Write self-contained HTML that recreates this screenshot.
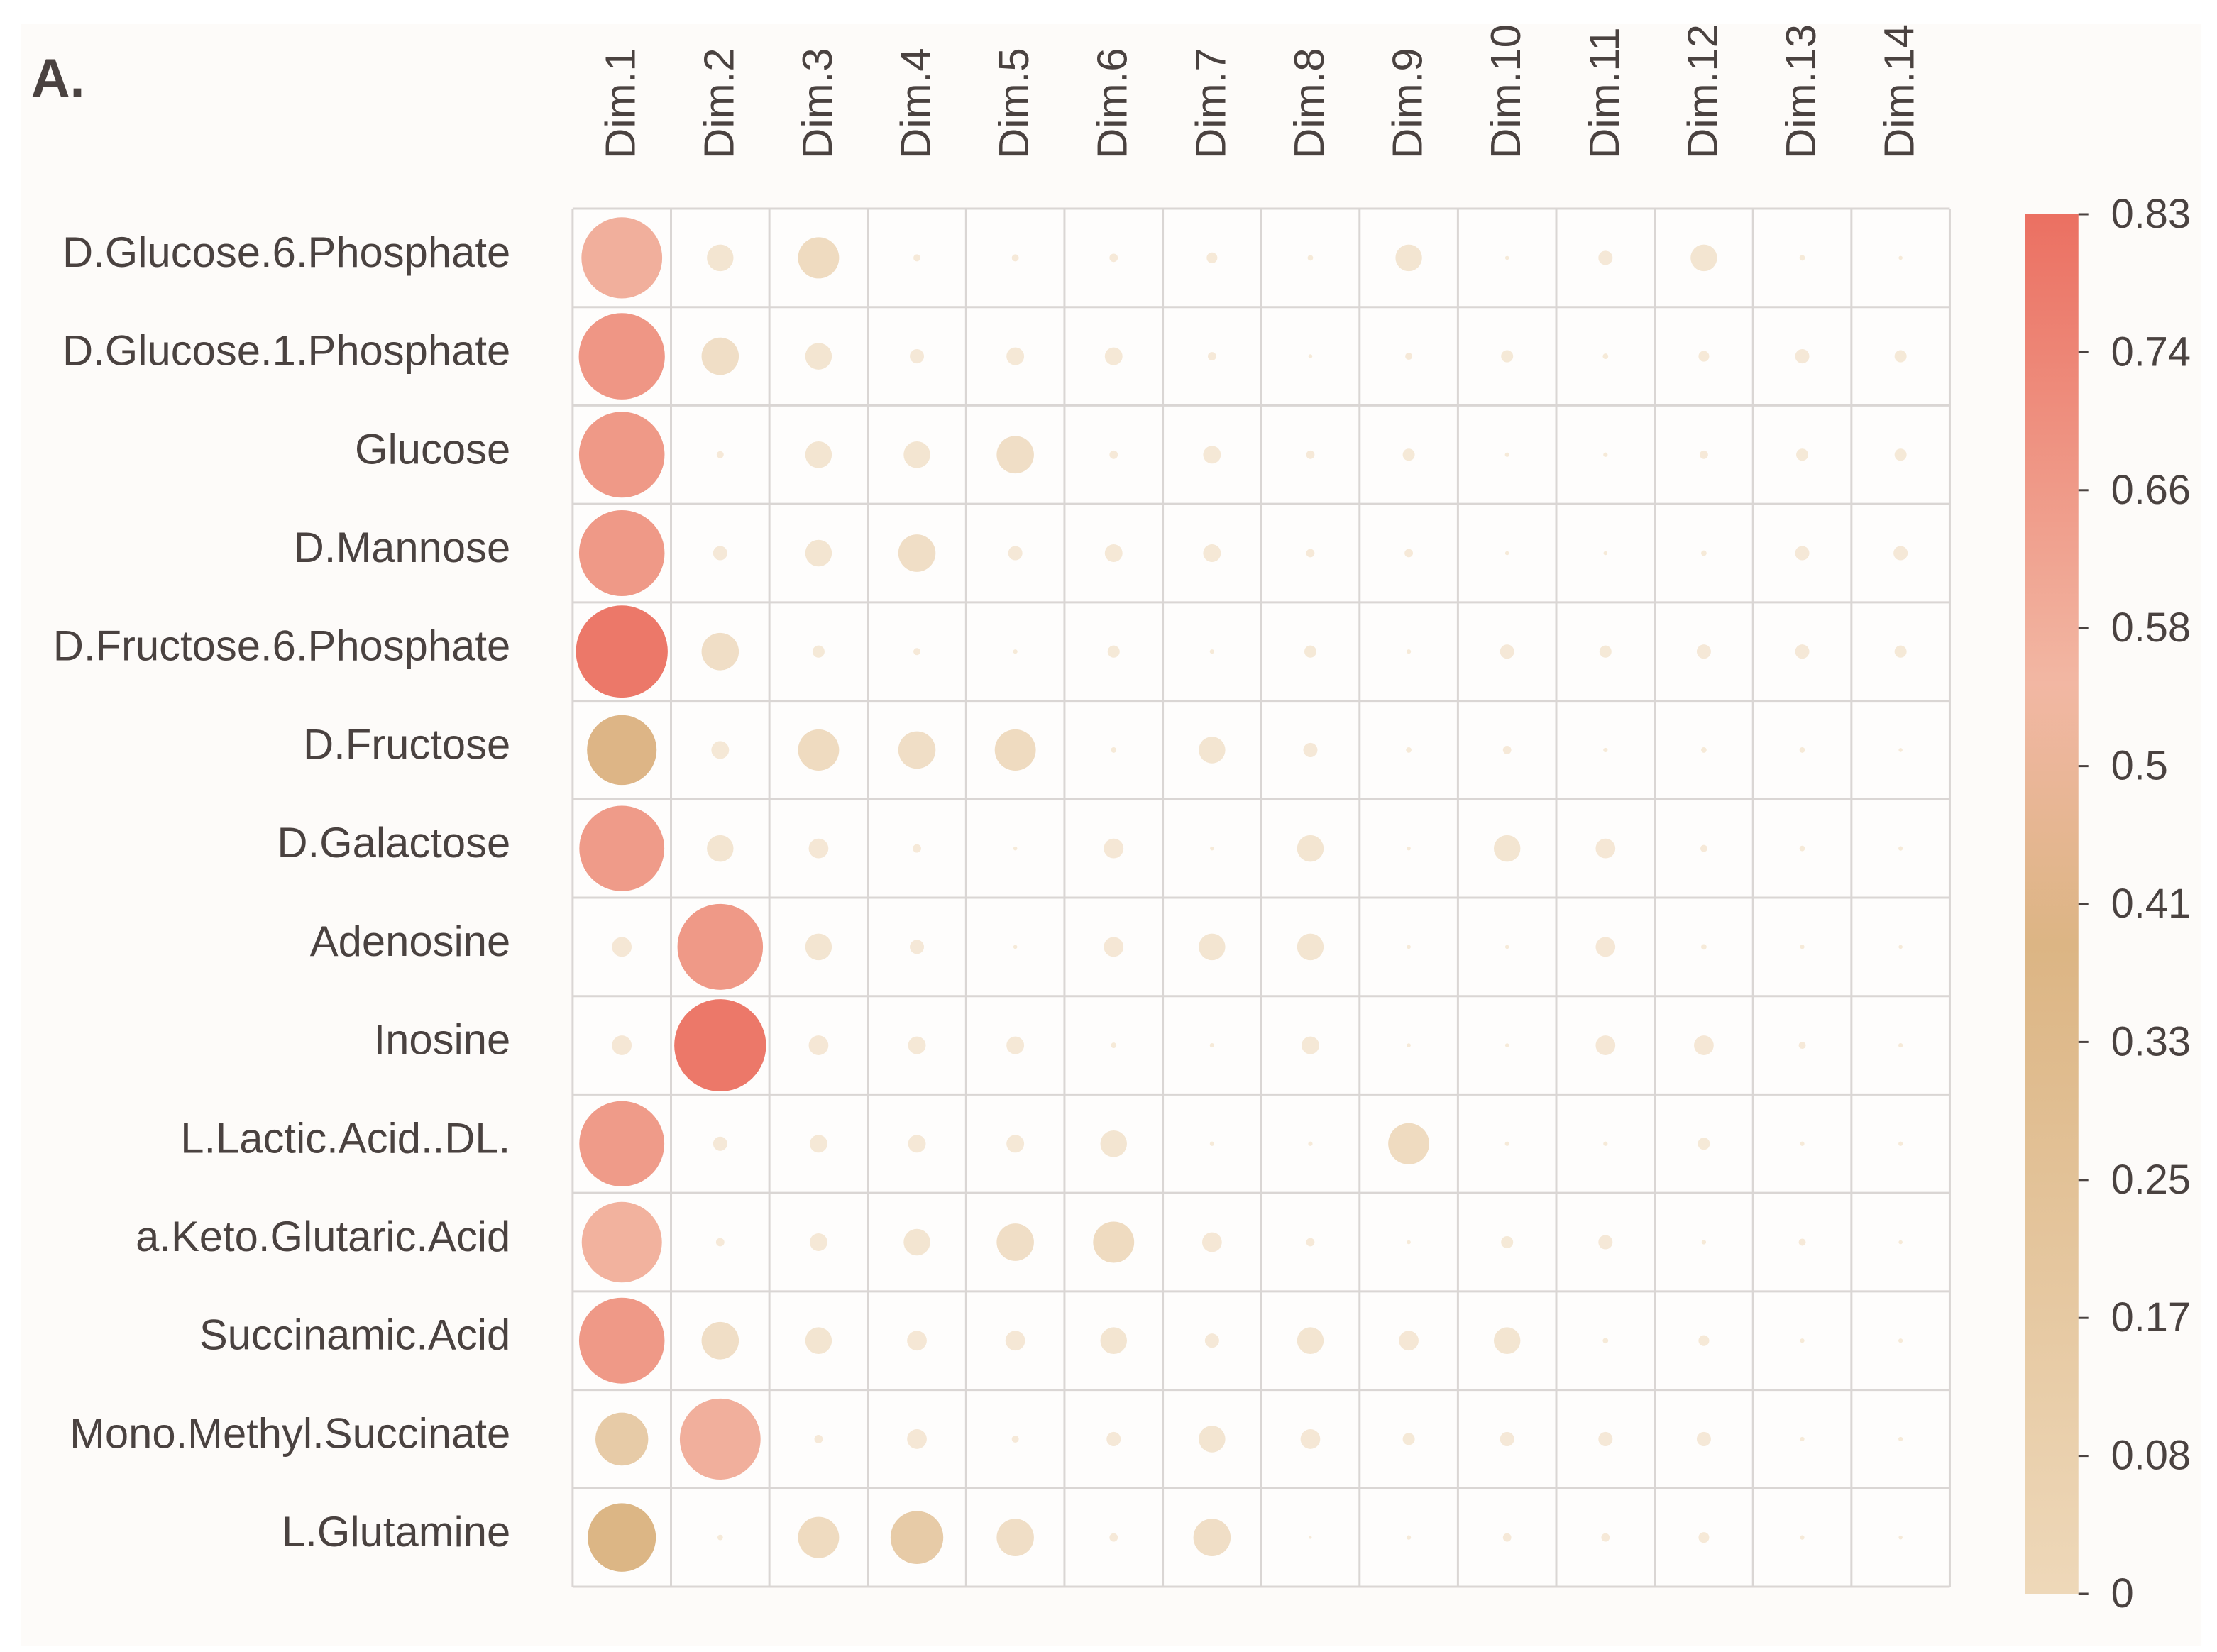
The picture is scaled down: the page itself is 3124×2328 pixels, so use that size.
<!DOCTYPE html>
<html><head><meta charset="utf-8"><style>
html,body{margin:0;padding:0;background:#fff;}
svg{display:block;font-family:"Liberation Sans",Arial,sans-serif;}
</style></head><body>
<svg id="chart" width="3124" height="2328" viewBox="0 0 1568 1164" preserveAspectRatio="none" xmlns="http://www.w3.org/2000/svg">
<defs>
<linearGradient id="cbar" x1="0" y1="1" x2="0" y2="0">
<stop offset="0" stop-color="#eed8b9"/>
<stop offset="0.47" stop-color="#dcb584"/>
<stop offset="0.66" stop-color="#f2b7a3"/>
<stop offset="1" stop-color="#eb7062"/>
</linearGradient>
</defs>
<rect x="15" y="17" width="1542" height="1143" fill="#fdfbf9"/>
<text x="22" y="68" font-size="38" font-weight="bold" fill="#4a4240">A.</text>
<g id="grid"></g>
<g id="dots"></g>
<g id="rowlabels"></g>
<g id="collabels"></g>
<rect x="1432" y="151" width="38" height="972" fill="url(#cbar)"/>
<g id="cbticks"></g>
</svg>
<script>
const rows = ["D.Glucose.6.Phosphate","D.Glucose.1.Phosphate","Glucose","D.Mannose","D.Fructose.6.Phosphate","D.Fructose","D.Galactose","Adenosine","Inosine","L.Lactic.Acid..DL.","a.Keto.Glutaric.Acid","Succinamic.Acid","Mono.Methyl.Succinate","L.Glutamine"];
const cols = ["Dim.1","Dim.2","Dim.3","Dim.4","Dim.5","Dim.6","Dim.7","Dim.8","Dim.9","Dim.10","Dim.11","Dim.12","Dim.13","Dim.14"];
const v_glc6p = [0.58,0.036,0.107,0.0013,0.0013,0.002,0.0037,0.0007,0.036,0.0003,0.0075,0.036,0.0007,0.0003];
const v_glc1p = [0.68,0.084,0.036,0.0075,0.013,0.013,0.002,0.0003,0.0013,0.005,0.0007,0.0037,0.0075,0.005];
const v_glucose = [0.67,0.0013,0.036,0.036,0.084,0.002,0.013,0.002,0.005,0.0004,0.0004,0.002,0.005,0.005];
const v_mannose = [0.67,0.0075,0.036,0.084,0.0075,0.013,0.013,0.002,0.002,0.0003,0.0003,0.0007,0.0075,0.0075];
const v_f6p = [0.80,0.084,0.005,0.0013,0.0004,0.005,0.0004,0.005,0.0004,0.0075,0.005,0.0075,0.0075,0.005];
const v_fructose = [0.40,0.013,0.107,0.084,0.107,0.0007,0.036,0.0075,0.0007,0.002,0.0004,0.0007,0.0007,0.0003];
const v_galactose = [0.66,0.036,0.017,0.002,0.0003,0.017,0.0003,0.036,0.0003,0.036,0.017,0.0013,0.0007,0.0004];
const v_adenosine = [0.017,0.67,0.036,0.0075,0.0003,0.017,0.036,0.036,0.0003,0.0003,0.017,0.0007,0.0004,0.0003];
const v_inosine = [0.017,0.80,0.017,0.013,0.013,0.0007,0.0004,0.013,0.0003,0.0003,0.017,0.017,0.0013,0.0004];
const v_lactic = [0.66,0.0075,0.013,0.013,0.013,0.036,0.0004,0.0004,0.107,0.0004,0.0004,0.005,0.0004,0.0004];
const v_akg = [0.57,0.002,0.013,0.036,0.084,0.107,0.017,0.002,0.0003,0.005,0.0075,0.0004,0.0013,0.0003];
const v_succinamic = [0.67,0.084,0.036,0.017,0.017,0.036,0.0075,0.036,0.017,0.036,0.0007,0.0037,0.0004,0.0004];
const v_mms = [0.20,0.58,0.002,0.017,0.0013,0.0075,0.036,0.017,0.005,0.0075,0.0075,0.0075,0.0004,0.0004];
const v_glutamine = [0.38,0.0007,0.107,0.20,0.084,0.002,0.084,0.00013,0.0004,0.002,0.002,0.0037,0.0004,0.0003];
const values = [v_glc6p,v_glc1p,v_glucose,v_mannose,v_f6p,v_fructose,v_galactose,v_adenosine,v_inosine,v_lactic,v_akg,v_succinamic,v_mms,v_glutamine];
const cbLabels = ["0","0.08","0.17","0.25","0.33","0.41","0.5","0.58","0.66","0.74","0.83"];
const vmax = 0.83;

const NS = "http://www.w3.org/2000/svg";
const gx0 = 405, gx1 = 1379, gy0 = 147, gy1 = 1118;
const cw = (gx1 - gx0) / cols.length, ch = (gy1 - gy0) / rows.length;
function xPos(j){ return gx0 + cw * (j + 0.5); }
function yPos(i){ return gy0 + ch * (i + 0.5); }
function rScale(v){ return 35.5 * Math.pow(Math.max(v,0), 0.4); }
const stops = [[0,[238,216,185]],[0.39,[220,181,132]],[0.55,[242,183,163]],[0.83,[235,112,98]]];
function color(v){
  v = Math.max(0, Math.min(vmax, v));
  let c = [235,112,98];
  for (let k = 1; k < stops.length; k++) {
    if (v <= stops[k][0]) {
      const a = stops[k-1], b = stops[k], t = (v - a[0]) / (b[0] - a[0]);
      c = a[1].map((x, i) => Math.round(x + (b[1][i] - x) * t));
      break;
    }
  }
  // dots with small values appear lighter in the reference
  const w = Math.max(0, 0.45 - v * 1.8);
  c = c.map(x => Math.round(x + (255 - x) * w));
  return "rgb(" + c.join(",") + ")";
}
function mk(tag, attrs, parent){
  const e = document.createElementNS(NS, tag);
  for (const k in attrs) e.setAttribute(k, attrs[k]);
  parent.appendChild(e);
  return e;
}
const grid = document.getElementById("grid");
const bg = mk("rect", {x:gx0, y:gy0, width:gx1-gx0, height:gy1-gy0, fill:"#fefdfc"}, grid);


for (let j = 0; j <= cols.length; j++) {
  const l = mk("line", {x1:gx0+cw*j, x2:gx0+cw*j, y1:gy0, y2:gy1, stroke:"#dad6d4", "stroke-width":1.5}, grid);
  
  
}
for (let i = 0; i <= rows.length; i++) {
  const l = mk("line", {x1:gx0, x2:gx1, y1:gy0+ch*i, y2:gy0+ch*i, stroke:"#dad6d4", "stroke-width":1.5}, grid);
  
  
}
const dots = document.getElementById("dots");
values.forEach((row, i) => {
  row.forEach((v, j) => {
    const c = mk("circle", {cx:xPos(j), cy:yPos(i), r:rScale(v), fill:color(v)}, dots);
    
    
  });
});
const rl = document.getElementById("rowlabels");
rows.forEach((name, i) => {
  const t = mk("text", {x:361, y:yPos(i)-4, "text-anchor":"end", "dominant-baseline":"central", "font-size":30, fill:"#4a4240"}, rl);
  t.textContent = name;
  
  
});
const cl = document.getElementById("collabels");
cols.forEach((name, j) => {
  const x = xPos(j) - 1, y = 112;
  const t = mk("text", {x:x, y:y, transform:"rotate(-90 " + x + " " + y + ")", "text-anchor":"start", "dominant-baseline":"central", "font-size":30, fill:"#4a4240"}, cl);
  t.textContent = name;
  
  
});
const cb = document.getElementById("cbticks");
cbLabels.forEach((lab, k) => {
  const y = 1123 - k * (972 / (cbLabels.length - 1));
  const tk = mk("line", {x1:1470, x2:1477, y1:y, y2:y, stroke:"#4a4240", "stroke-width":1.5}, cb);
  
  
  const t = mk("text", {x:1493, y:y, "dominant-baseline":"central", "font-size":29, fill:"#4a4240"}, cb);
  t.textContent = lab;
  
  
});
</script>
</body></html>
